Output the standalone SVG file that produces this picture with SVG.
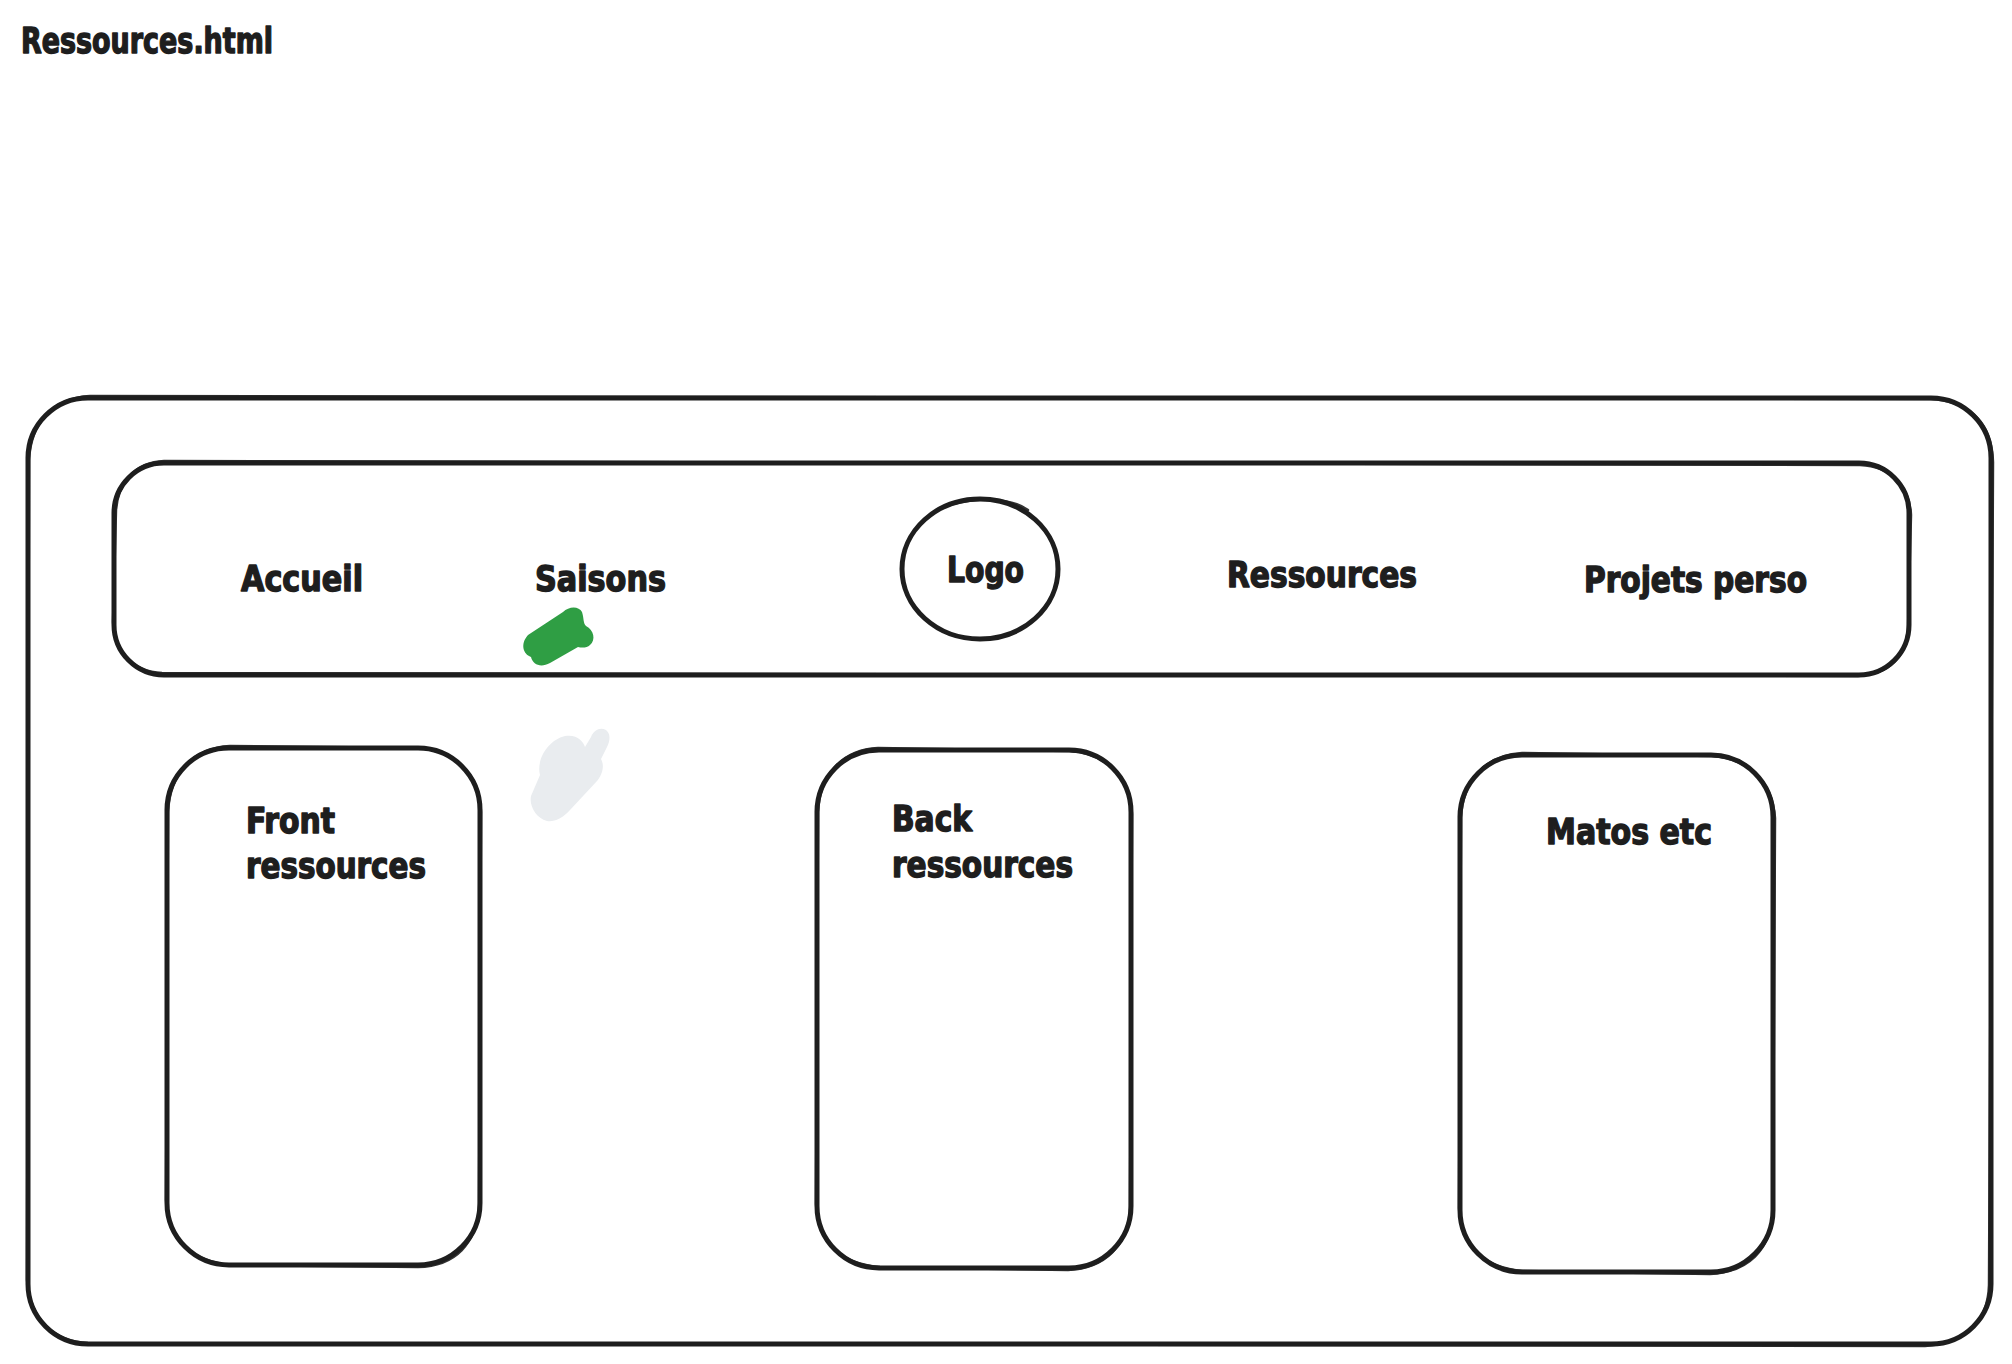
<svg xmlns="http://www.w3.org/2000/svg" width="2012" height="1364" viewBox="0 0 2012 1364">
<style>
.sk{fill:none;stroke:#1e1e1e;stroke-width:5;stroke-linecap:round;stroke-linejoin:round}
.sk2{fill:none;stroke:#1e1e1e;stroke-width:2.5;stroke-linecap:round;stroke-linejoin:round;opacity:0.9}
.t{font-family:"DejaVu Sans Condensed","DejaVu Sans","Liberation Sans",sans-serif;font-stretch:condensed;font-weight:bold;font-size:36px;fill:#1e1e1e;stroke:#1e1e1e;stroke-width:1.4;stroke-linejoin:round}
</style>
<rect width="2012" height="1364" fill="#ffffff"/>
<g id="title">
<text class="t" x="21" y="53" textLength="252" lengthAdjust="spacingAndGlyphs">Ressources.html</text>
</g>
<g id="page">
<rect class="sk" x="28" y="398" width="1963" height="946" rx="60" ry="60"/>
<path class="sk2" d="M90 396 L1930 399 C1972 401 1992 425 1993 462 L1989 1285 C1988 1322 1965 1344 1925 1346 L88 1343 C52 1341 30 1318 27 1280 L29 460 C31 420 55 398 90 396 Z"/>
</g>
<g id="navbar">
<rect class="sk" x="114" y="463" width="1795" height="212" rx="50" ry="50"/>
<path class="sk2" d="M164 461 L1860 465 C1892 466 1910 488 1911 515 L1908 628 C1906 657 1890 674 1858 676 L162 673 C132 671 115 652 113 622 L116 510 C118 482 136 462 164 461 Z"/>
</g>
<g id="nav-accueil">
<text class="t" x="241" y="591" textLength="122" lengthAdjust="spacingAndGlyphs">Accueil</text>
</g>
<g id="nav-saisons">
<text class="t" x="535" y="591" textLength="131" lengthAdjust="spacingAndGlyphs">Saisons</text>
</g>
<g id="nav-logo">
<ellipse class="sk" cx="980" cy="569" rx="78" ry="70"/>
<path class="sk2" d="M940 508 C975 496 1010 497 1028 510"/>
<text class="t" x="947" y="582" textLength="77" lengthAdjust="spacingAndGlyphs">Logo</text>
</g>
<g id="nav-ressources">
<text class="t" x="1227" y="587" textLength="190" lengthAdjust="spacingAndGlyphs">Ressources</text>
</g>
<g id="nav-projets">
<text class="t" x="1584" y="592" textLength="223" lengthAdjust="spacingAndGlyphs">Projets perso</text>
</g>
<g id="marks">
<path fill="#2f9e44" d="M528 635 L563 612 C569 606 579 606 582 612 C584 618 583 623 586 626 C594 630 596 640 590 645 C587 648 582 648 578 647 L550 663 C541 668 533 665 531 657 C523 654 520 644 528 635 Z"/>
<path fill="#e9ecef" d="M547 821 C536 818 529 806 531 796 L540 775 C536 760 548 740 565 736 C577 734 583 741 585 747 L591 737 C594 730 600 727 606 730 C611 734 610 741 607 747 L601 759 C605 766 602 775 597 781 L570 810 C562 819 554 822 547 821 Z"/>
</g>
<g id="box-front">
<rect class="sk" x="167" y="748" width="313" height="517" rx="62" ry="62"/>
<path class="sk2" d="M230 746 L420 748 C460 752 480 778 481 812 L479 1205 C477 1244 455 1266 418 1267 L232 1265 C192 1262 168 1240 166 1200 L168 812 C170 774 192 748 230 746 Z"/>
<text class="t" x="246" y="833" textLength="89" lengthAdjust="spacingAndGlyphs">Front</text>
<text class="t" x="246" y="878" textLength="180" lengthAdjust="spacingAndGlyphs">ressources</text>
</g>
<g id="box-back">
<rect class="sk" x="817" y="750" width="314" height="518" rx="62" ry="62"/>
<path class="sk2" d="M878 748 L1070 751 C1110 754 1130 780 1132 814 L1130 1208 C1128 1246 1105 1268 1068 1270 L880 1267 C840 1264 818 1242 816 1204 L818 812 C820 774 842 750 878 748 Z"/>
<text class="t" x="892" y="831" textLength="80" lengthAdjust="spacingAndGlyphs">Back</text>
<text class="t" x="892" y="877" textLength="181" lengthAdjust="spacingAndGlyphs">ressources</text>
</g>
<g id="box-matos">
<rect class="sk" x="1460" y="755" width="313" height="517" rx="62" ry="62"/>
<path class="sk2" d="M1522 753 L1712 756 C1752 759 1773 785 1775 818 L1773 1212 C1771 1250 1748 1272 1710 1274 L1523 1271 C1484 1268 1461 1246 1459 1208 L1461 818 C1463 780 1485 755 1522 753 Z"/>
<text class="t" x="1546" y="844" textLength="166" lengthAdjust="spacingAndGlyphs">Matos etc</text>
</g>
<g id="connectors"></g>
</svg>
